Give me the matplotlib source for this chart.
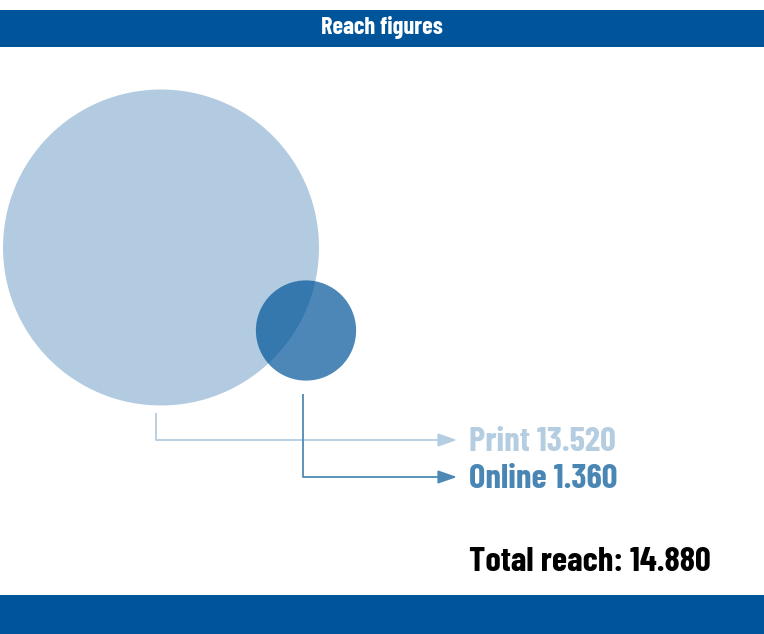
import matplotlib.pyplot as plt
from matplotlib.patches import Circle, Rectangle
import numpy as np

# data
labels = ['Print', 'Online']
values = [13520, 1360]
total = sum(values)
title = 'Reach figures'

blue = '#00559A'
alphas = [0.3, 0.7]
line_cols = ['#B4CDE1', '#4E89B5']
text_cols = ['#B4CDE1', '#4A86B4']

def fmt(v):
    return '{:,}'.format(v).replace(',', '.')

font = dict(family=['Barlow Condensed', 'DejaVu Sans'], weight='bold', stretch='condensed')

fig = plt.figure(figsize=(7.64, 6.34), dpi=100)
ax = fig.add_axes([0, 0, 1, 1])
ax.set_xlim(0, 764)
ax.set_ylim(634, 0)
ax.axis('off')

# header and footer bars
ax.add_patch(Rectangle((0, 10), 764, 37, color=blue, lw=0))
ax.add_patch(Rectangle((0, 595), 764, 40, color=blue, lw=0))
ax.text(382, 34, title, color='white', ha='center', va='baseline', fontsize=17.5, **font)

# circles, area proportional to value
k = 158 / np.sqrt(max(values))
centers = [(161, 247.5), (306, 330.5)]
radii = [k * np.sqrt(v) for v in values]
for (cx, cy), r, a in zip(centers, radii, alphas):
    ax.add_patch(Circle((cx, cy), r, facecolor=blue, alpha=a, lw=0))

# connector lines and labels
starts = [(156, 413), (303, 394)]
ys = [440, 477]
for i, lab in enumerate(labels):
    x0, y0 = starts[i]
    ax.plot([x0, x0, 440], [y0, ys[i], ys[i]], color=line_cols[i], lw=1.3, solid_capstyle='butt')
    ax.annotate('', xy=(457, ys[i]), xytext=(438, ys[i]),
                arrowprops=dict(arrowstyle='-|>,head_length=1.15,head_width=0.4',
                                color=line_cols[i], lw=1.3, shrinkA=0, shrinkB=0))
    ax.text(469, ys[i] + 11, '{} {}'.format(lab, fmt(values[i])), color=text_cols[i],
            ha='left', va='baseline', fontsize=25, **font)

ax.text(469, 571, 'Total reach: {}'.format(fmt(total)), color='black',
        ha='left', va='baseline', fontsize=25, **font)

fig.savefig('out.png', dpi=100)
